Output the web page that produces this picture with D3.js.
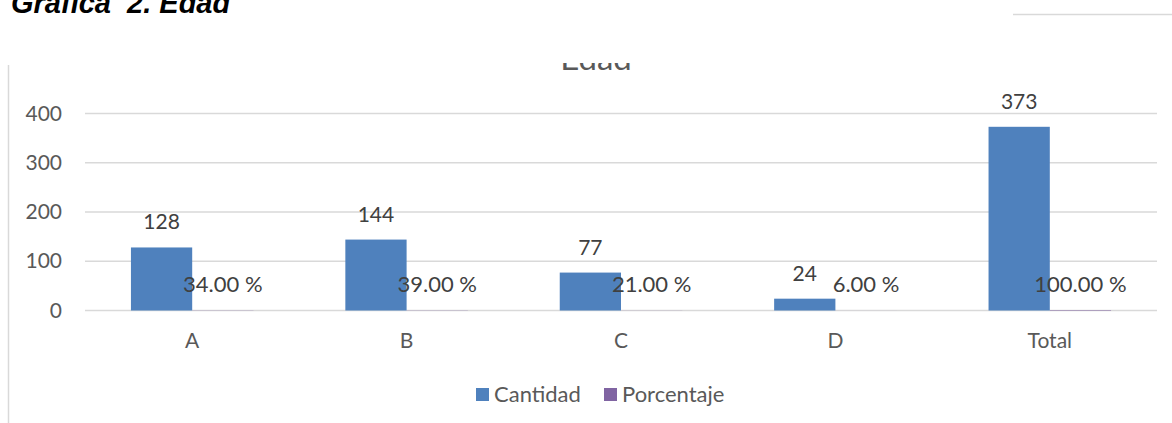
<!DOCTYPE html>
<html>
<head>
<meta charset="utf-8">
<title>Grafica 2. Edad</title>
<script src="https://d3js.org/d3.v7.min.js"></script>
<style>
body { margin: 0; background: #fff; }
</style>
</head>
<body>
<script>

var categories = ["A", "B", "C", "D", "Total"];
var cantidad = [128, 144, 77, 24, 373];
var porcentaje = [0.34, 0.39, 0.21, 0.06, 1.00];
var yTicks = [0, 100, 200, 300, 400];
var seriesNames = ["Cantidad", "Porcentaje"];
var seriesColors = ["#4F81BD", "#8064A2"];

var width = 1172;
var height = 423;

var svg = d3.select("body")
            .append("svg")
            .attr("width", width)
            .attr("height", height);

// document caption above the chart (cut at the top)
svg.append("text")
   .attr("x", 11)
   .attr("y", 13)
   .attr("font-family", "Liberation Sans, Arial, sans-serif")
   .attr("font-weight", "bold")
   .attr("font-style", "italic")
   .attr("font-size", 29)
   .attr("fill", "#000")
   .attr("xml:space", "preserve")
   .text("Gráfica  2. Edad");

svg.append("line")
   .attr("x1", 1013).attr("x2", 1172)
   .attr("y1", 14.5).attr("y2", 14.5)
   .attr("stroke", "#d9d9d9")
   .attr("stroke-width", 1.5);

// chart picture is cropped at the top
svg.append("clipPath")
   .attr("id", "crop")
   .append("rect")
   .attr("x", 0).attr("y", 63)
   .attr("width", width).attr("height", height - 63);

var chart = svg.append("g").attr("clip-path", "url(#crop)");

chart.append("line")
     .attr("x1", 8.5).attr("x2", 8.5)
     .attr("y1", 65).attr("y2", height)
     .attr("stroke", "#d9d9d9")
     .attr("stroke-width", 1.5);

chart.append("text")
     .attr("x", 596)
     .attr("y", 70)
     .attr("text-anchor", "middle")
     .attr("font-family", "Lato, sans-serif")
     .attr("font-size", 33)
     .attr("fill", "#595959")
     .text("Edad");

var x = d3.scaleBand()
          .domain(categories)
          .range([85, 1157])
          .paddingInner(0)
          .paddingOuter(0);

var y = d3.scaleLinear()
          .domain([0, 400])
          .range([310.5, 113.5]);

var bw = x.bandwidth() / 3.5;

// gridlines
chart.append("g")
     .selectAll("line")
     .data(yTicks)
     .enter()
     .append("line")
     .attr("x1", 85)
     .attr("x2", 1157)
     .attr("y1", function(d){ return y(d); })
     .attr("y2", function(d){ return y(d); })
     .attr("stroke", "#d9d9d9")
     .attr("stroke-width", 1.3);

// y axis labels
var yAxis = d3.axisLeft(y).tickValues(yTicks).tickSize(0).tickPadding(0);
var gy = chart.append("g")
              .attr("transform", "translate(62,0)")
              .call(yAxis);
gy.select(".domain").remove();
gy.selectAll("text")
  .attr("font-family", "Lato, sans-serif")
  .attr("font-size", 21)
  .attr("fill", "#595959");

// x axis labels
var xAxis = d3.axisBottom(x).tickSize(0).tickPadding(0);
var gx = chart.append("g")
              .attr("transform", "translate(0,333)")
              .call(xAxis);
gx.select(".domain").remove();
gx.selectAll("text")
  .attr("font-family", "Lato, sans-serif")
  .attr("font-size", 21)
  .attr("fill", "#595959");

function center(c){
  return x(c) + x.bandwidth() / 2;
}

// Cantidad bars
chart.append("g")
     .selectAll("rect")
     .data(categories)
     .enter()
     .append("rect")
     .attr("x", function(d){ return center(d) - bw; })
     .attr("y", function(d, i){ return y(cantidad[i]); })
     .attr("width", bw)
     .attr("height", function(d, i){ return y(0) - y(cantidad[i]); })
     .attr("fill", seriesColors[0]);

// Porcentaje bars (tiny)
chart.append("g")
     .selectAll("rect")
     .data(categories)
     .enter()
     .append("rect")
     .attr("x", function(d){ return center(d); })
     .attr("y", function(d, i){ return y(porcentaje[i]); })
     .attr("width", bw)
     .attr("height", function(d, i){ return y(0) - y(porcentaje[i]); })
     .attr("fill", seriesColors[1]);

// value labels
chart.append("g")
     .selectAll("text")
     .data(categories)
     .enter()
     .append("text")
     .attr("x", function(d){ return center(d) - bw / 2; })
     .attr("y", function(d, i){ return y(cantidad[i]) - 18; })
     .attr("text-anchor", "middle")
     .attr("font-family", "Lato, sans-serif")
     .attr("font-size", 21)
     .attr("fill", "#404040")
     .text(function(d, i){ return cantidad[i]; });

var pct = d3.format(".2f");
chart.append("g")
     .selectAll("text")
     .data(categories)
     .enter()
     .append("text")
     .attr("x", function(d){ return center(d) + bw / 2; })
     .attr("y", function(d, i){ return y(porcentaje[i]) - 18; })
     .attr("text-anchor", "middle")
     .attr("font-family", "Lato, sans-serif")
     .attr("font-size", 22)
     .attr("fill", "#404040")
     .text(function(d, i){ return pct(porcentaje[i] * 100) + " %"; });

// legend
var legendX = [476, 604];
var legend = chart.append("g")
                  .selectAll("g")
                  .data(seriesNames)
                  .enter()
                  .append("g")
                  .attr("transform", function(d, i){ return "translate(" + legendX[i] + ",388)"; });
legend.append("rect")
      .attr("width", 13)
      .attr("height", 13)
      .attr("fill", function(d, i){ return seriesColors[i]; });
legend.append("text")
      .attr("x", 18)
      .attr("y", 14)
      .attr("font-family", "Lato, sans-serif")
      .attr("font-size", 22)
      .attr("fill", "#595959")
      .text(function(d){ return d; });

</script>
</body>
</html>
